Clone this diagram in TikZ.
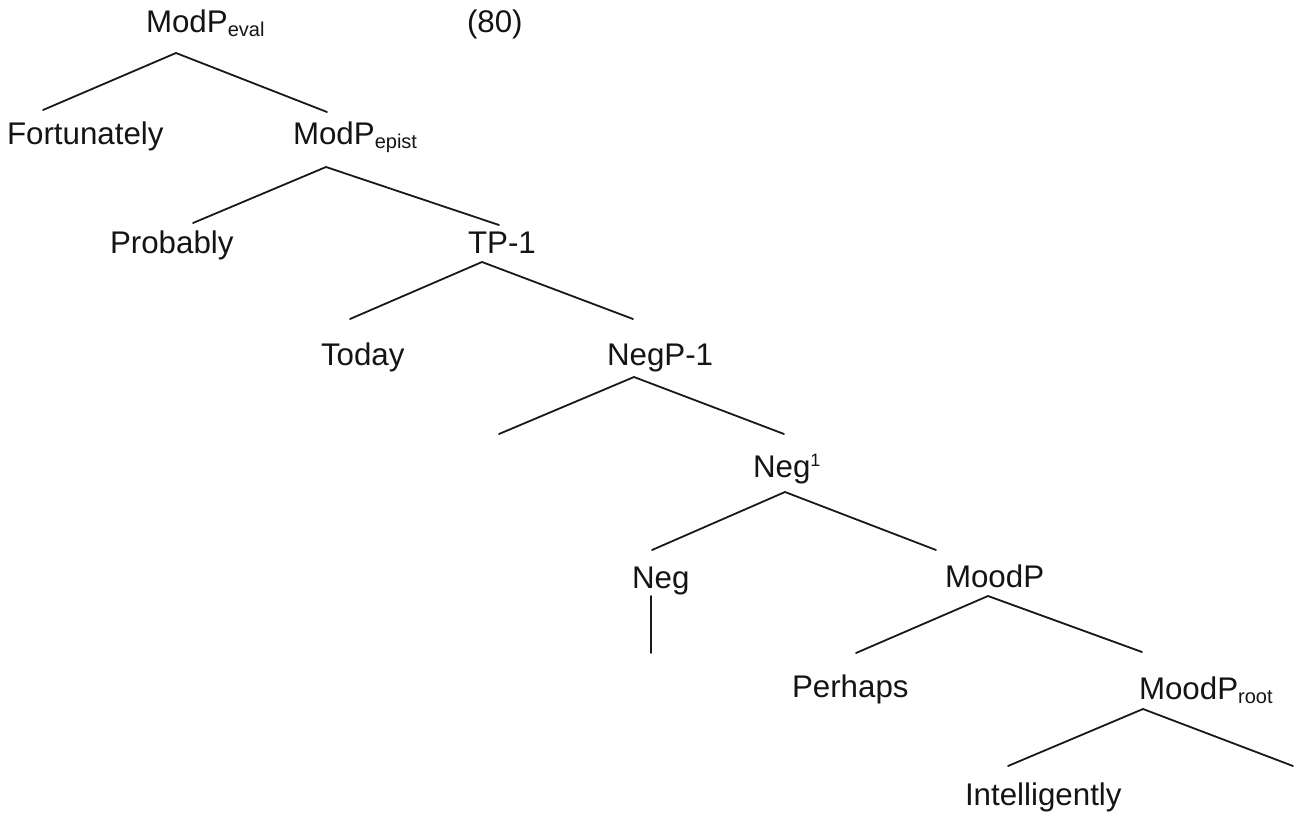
\documentclass[tikz,border=0pt]{standalone}
\usepackage{fontspec}
\setmainfont{Liberation Sans}
\newcommand{\lsub}[1]{{\fontsize{20}{22}\selectfont\raisebox{-4pt}{#1}}}
\newcommand{\lsup}[1]{{\fontsize{18}{20}\selectfont\raisebox{11pt}{#1}}}
\begin{document}
\begin{tikzpicture}[x=1pt,y=-1pt,
  lbl/.style={anchor=base west,inner sep=0pt,outer sep=0pt,text=black!92,
    font=\fontsize{31.3}{36}\selectfont},
  branch/.style={line width=1.8pt,draw=black!90,line cap=round}]
\useasboundingbox (0,0) rectangle (1298,816);

% labels
\node[lbl] (eval)    at (146,33)  {ModP\lsub{eval}};
\node[lbl] (exnum)   at (467,33)  {(80)};
\node[lbl] (fort)    at (7,144)   {Fortunately};
\node[lbl] (epist)   at (293,144) {ModP\lsub{epist}};
\node[lbl] (prob)    at (110,253) {Probably};
\node[lbl] (tp)      at (468,253) {TP-1};
\node[lbl] (today)   at (321,365) {Today};
\node[lbl] (negp)    at (607,365) {NegP-1};
\node[lbl] (negbar)  at (753,477) {Neg\lsup{1}};
\node[lbl] (neg)     at (632,588) {Neg};
\node[lbl] (moodp)   at (945,587) {MoodP};
\node[lbl] (perhaps) at (792,697) {Perhaps};
\node[lbl] (root)    at (1139,699){MoodP\lsub{root}};
\node[lbl] (intel)   at (965,805) {Intelligently};

% branch points
\coordinate (eval-t)   at (176,53);
\coordinate (fort-t)   at (43,110);
\coordinate (epist-t)  at (327,112);
\coordinate (epist-b)  at (326,167);
\coordinate (prob-t)   at (193,223);
\coordinate (tp-t)     at (499,225);
\coordinate (tp-b)     at (482,262);
\coordinate (today-t)  at (350,319);
\coordinate (negp-t)   at (633,319);
\coordinate (negp-b)   at (634,377);
\coordinate (spec-end) at (499,434);
\coordinate (negbar-t) at (784,434);
\coordinate (negbar-b) at (785,492);
\coordinate (neg-t)    at (652,550);
\coordinate (moodp-t)  at (936,550);
\coordinate (neg-b)    at (651,596);
\coordinate (neg-end)  at (651,653);
\coordinate (moodp-b)  at (988,596);
\coordinate (perh-t)   at (856,653);
\coordinate (root-t)   at (1142,652);
\coordinate (root-b)   at (1143,709);
\coordinate (intel-t)  at (1008,766);
\coordinate (comp-end) at (1293,766);

% branches
\draw[branch] (fort-t) -- (eval-t) -- (epist-t);
\draw[branch] (prob-t) -- (epist-b) -- (tp-t);
\draw[branch] (today-t) -- (tp-b) -- (negp-t);
\draw[branch] (spec-end) -- (negp-b) -- (negbar-t);
\draw[branch] (neg-t) -- (negbar-b) -- (moodp-t);
\draw[branch] (neg-b) -- (neg-end);
\draw[branch] (perh-t) -- (moodp-b) -- (root-t);
\draw[branch] (intel-t) -- (root-b) -- (comp-end);
\end{tikzpicture}
\end{document}
